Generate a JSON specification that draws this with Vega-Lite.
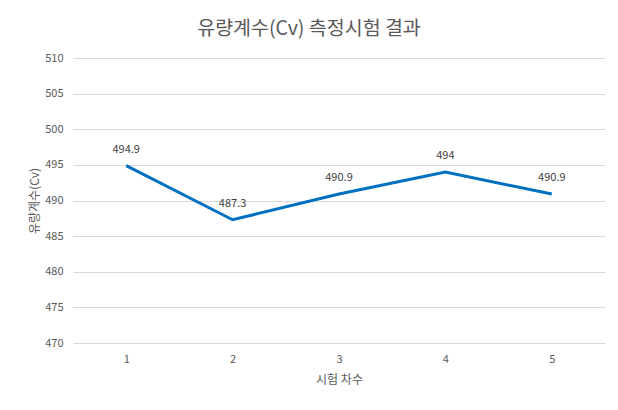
{
  "$schema": "https://vega.github.io/schema/vega-lite/v6.json",
  "width": 532,
  "height": 285,
  "autosize": {"type": "none"},
  "padding": {"left": 73, "top": 58, "right": 13, "bottom": 67},
  "background": "white",
  "title": {
    "text": "유량계수(Cv) 측정시험 결과",
    "fontSize": 19.5,
    "font": "Noto Sans CJK KR",
    "fontWeight": "normal",
    "color": "#595959",
    "anchor": "middle",
    "dx": -30,
    "offset": 13
  },
  "data": {
    "values": [
      {"trial": "1", "cv": 494.9},
      {"trial": "2", "cv": 487.3},
      {"trial": "3", "cv": 490.9},
      {"trial": "4", "cv": 494},
      {"trial": "5", "cv": 490.9}
    ]
  },
  "encoding": {
    "x": {
      "field": "trial",
      "type": "ordinal",
      "scale": {"type": "point", "padding": 0.5},
      "axis": {
        "title": "시험 차수",
        "labelAngle": 0,
        "ticks": false,
        "domain": false,
        "grid": false,
        "labelPadding": 10,
        "titlePadding": 10
      }
    },
    "y": {
      "field": "cv",
      "type": "quantitative",
      "scale": {"domain": [470, 510], "nice": false, "zero": false},
      "axis": {
        "title": "유량계수(Cv)",
        "values": [470, 475, 480, 485, 490, 495, 500, 505, 510],
        "ticks": false,
        "domain": false,
        "labelPadding": 10,
        "titlePadding": 3
      }
    }
  },
  "layer": [
    {
      "mark": {"type": "line", "color": "#0070C0", "strokeWidth": 3}
    },
    {
      "mark": {"type": "text", "dy": -16, "fontSize": 11, "color": "#404040", "font": "Noto Sans CJK KR"},
      "encoding": {"text": {"field": "cv", "type": "quantitative"}}
    }
  ],
  "config": {
    "view": {"stroke": null},
    "axis": {
      "labelFont": "Noto Sans CJK KR",
      "titleFont": "Noto Sans CJK KR",
      "labelFontSize": 11,
      "titleFontSize": 12,
      "titleFontWeight": "normal",
      "labelColor": "#595959",
      "titleColor": "#595959",
      "gridColor": "#D9D9D9",
      "gridWidth": 1
    }
  }
}
